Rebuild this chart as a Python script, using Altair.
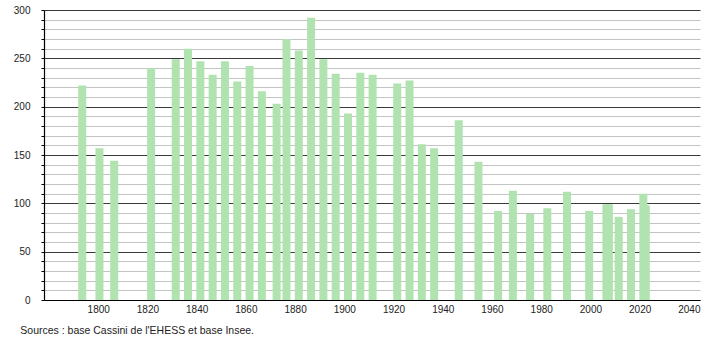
import altair as alt
import pandas as pd

years = [1793, 1800, 1806, 1821, 1831, 1836, 1841, 1846, 1851, 1856, 1861, 1866,
         1872, 1876, 1881, 1886, 1891, 1896, 1901, 1906, 1911, 1921, 1926, 1931,
         1936, 1946, 1954, 1962, 1968, 1975, 1982, 1990, 1999, 2006, 2007, 2011,
         2016, 2021, 2022]
population = [222, 157, 144, 240, 249, 260, 247, 233, 247, 226, 242, 216,
              203, 270, 258, 292, 249, 234, 193, 235, 233, 224, 227, 161,
              157, 186, 143, 92, 113, 89, 95, 112, 92, 99, 99, 86,
              94, 110, 98]
x_ticks = [1800, 1820, 1840, 1860, 1880, 1900, 1920, 1940, 1960, 1980, 2000, 2020, 2040]
y_grid = list(range(0, 301, 10))
source_text = "Sources : base Cassini de l'EHESS et base Insee."

df = pd.DataFrame({"year": years, "pop": population})

chart = (
    alt.Chart(df)
    .transform_calculate(pos="datum.year + 0.5")
    .mark_bar(size=8, color="#b0e3b0")
    .encode(
        x=alt.X(
            "pos:Q",
            scale=alt.Scale(domain=[1780, 2042.5], nice=False, zero=False),
            axis=alt.Axis(
                values=x_ticks, format="d", title=None, grid=False,
                ticks=False, labelPadding=4, labelFontSize=10,
                labelFont="Liberation Sans", labelColor="#222222",
                domainColor="#000000", domainWidth=1.2, labelFlush=False,
            ),
        ),
        y=alt.Y(
            "pop:Q",
            scale=alt.Scale(domain=[0, 300], nice=False),
            axis=alt.Axis(
                values=y_grid, title=None, grid=True,
                gridColor=alt.condition("datum.value % 50 == 0", alt.value("#3a3a3a"), alt.value("#c4c4c4")),
                gridWidth=1,
                labelExpr="datum.value % 50 == 0 ? datum.label : ''",
                tickSize=3, tickColor="#000000", labelPadding=11,
                labelFontSize=10, labelFont="Liberation Sans", labelColor="#222222",
                domainColor="#000000", domainWidth=1.2,
            ),
        ),
    )
    .properties(
        width=656,
        height=290,
        autosize=alt.AutoSizeParams(type="none"),
        padding={"left": 44, "top": 10, "right": 10, "bottom": 40},
        title=alt.TitleParams(
            source_text, orient="bottom", anchor="start", dx=7, offset=12,
            fontSize=10.5, fontWeight="normal", font="Liberation Sans", color="#222222",
        ),
    )
    .configure_view(stroke=None)
)

chart.save("out.html", embed_options={"renderer": "svg", "actions": False})
